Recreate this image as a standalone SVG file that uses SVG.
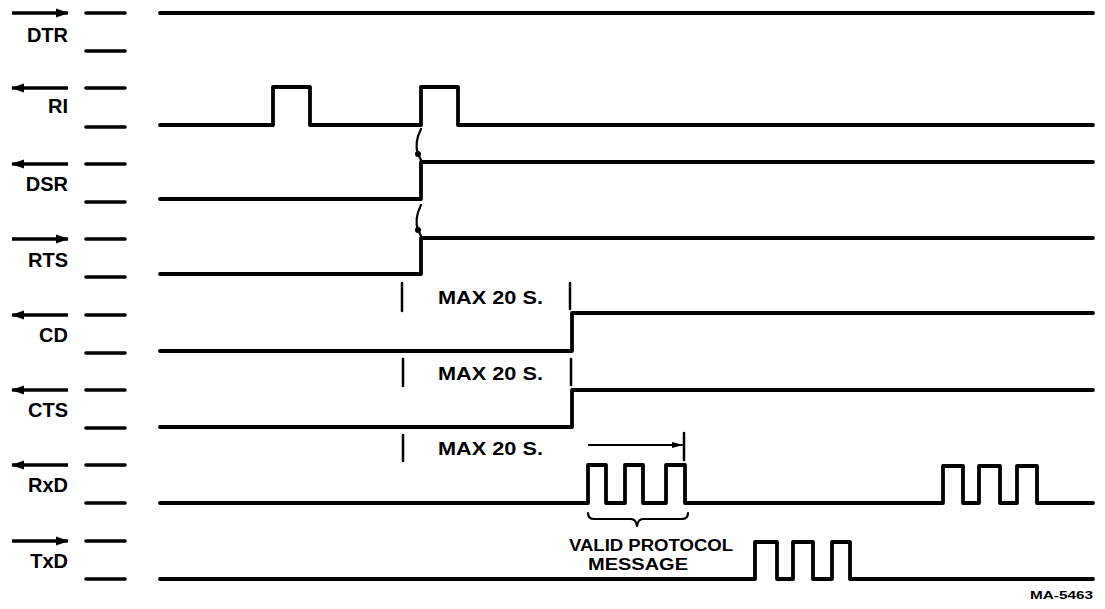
<svg xmlns="http://www.w3.org/2000/svg" width="1105" height="609" viewBox="0 0 1105 609">
<style>
.bg{fill:#ffffff}
.lbl{font-family:"Liberation Sans",Arial,sans-serif;font-weight:bold;font-size:20px;fill:#000;text-anchor:end}
.ann{font-family:"Liberation Sans",Arial,sans-serif;font-weight:bold;font-size:19px;fill:#000}
.msg{font-family:"Liberation Sans",Arial,sans-serif;font-weight:bold;font-size:16px;fill:#000}
.small{font-family:"Liberation Sans",Arial,sans-serif;font-weight:bold;font-size:10px;fill:#000}
.dir{stroke:#000;stroke-width:3.4;fill:none;marker-end:url(#ah)}
.tick{stroke:#000;stroke-width:3.6;stroke-linecap:round;fill:none}
.wave{stroke:#000;stroke-width:3.8;fill:none;stroke-linejoin:round;stroke-linecap:round}
.vt{stroke:#000;stroke-width:2.5;fill:none;stroke-linecap:round}
.thin{stroke:#000;stroke-width:2.2;fill:none;stroke-linecap:round;stroke-linejoin:round}
</style>
<defs>
<marker id="ah" markerUnits="userSpaceOnUse" markerWidth="14" markerHeight="10" refX="12" refY="5" orient="auto">
<path d="M0,0.5 L13,5 L0,9.5 z" fill="#000"/>
</marker>
<marker id="ah2" markerUnits="userSpaceOnUse" markerWidth="12" markerHeight="8" refX="10" refY="4" orient="auto">
<path d="M0,1 L11,4 L0,7 z" fill="#000"/>
</marker>
</defs>
<rect class="bg" x="0" y="0" width="1105" height="609"/>

<g id="sig-DTR">
<path class="dir" d="M12,13 H68"/>
<text class="lbl" x="68" y="42">DTR</text>
<path class="tick" d="M86,13 H125 M86,51 H125"/>
<path class="wave" d="M160,13 H1093"/>
</g>

<g id="sig-RI">
<path class="dir" d="M68,88 H12"/>
<text class="lbl" x="68" y="113">RI</text>
<path class="tick" d="M86,88 H125 M86,127 H125"/>
<path class="wave" d="M160,125 H273 V87 H310 V125 H421 V87 H458 V125 H1093"/>
</g>

<g id="sig-DSR">
<path class="dir" d="M68,164 H12"/>
<text class="lbl" x="68" y="191">DSR</text>
<path class="tick" d="M86,164 H125 M86,202 H125"/>
<path class="wave" d="M160,199 H421 V162 H1093"/>
</g>

<g id="sig-RTS">
<path class="dir" d="M12,239 H68"/>
<text class="lbl" x="68" y="267">RTS</text>
<path class="tick" d="M86,239 H125 M86,277 H125"/>
<path class="wave" d="M160,274 H421 V238 H1093"/>
</g>

<g id="sig-CD">
<path class="dir" d="M68,315 H12"/>
<text class="lbl" x="68" y="342">CD</text>
<path class="tick" d="M86,315 H125 M86,353 H125"/>
<path class="wave" d="M160,351 H572 V313 H1093"/>
</g>

<g id="sig-CTS">
<path class="dir" d="M68,390 H12"/>
<text class="lbl" x="68" y="417">CTS</text>
<path class="tick" d="M86,390 H125 M86,428 H125"/>
<path class="wave" d="M160,427 H572 V390 H1093"/>
</g>

<g id="sig-RxD">
<path class="dir" d="M68,465 H12"/>
<text class="lbl" x="68" y="492">RxD</text>
<path class="tick" d="M86,465 H125 M86,503 H125"/>
<path class="wave" d="M160,503 H588 V465 H606 V503 H625 V465 H643 V503 H666 V465 H685 V503 H943 V466 H963 V503 H979 V466 H1000 V503 H1017 V466 H1037 V503 H1093"/>
</g>

<g id="sig-TxD">
<path class="dir" d="M12,541 H68"/>
<text class="lbl" x="68" y="568">TxD</text>
<path class="tick" d="M86,541 H125 M86,579 H125"/>
<path class="wave" d="M160,579 H755 V542 H777 V579 H793 V542 H813 V579 H832 V542 H850 V579 H1093"/>
</g>

<g id="timing">
<path class="vt" d="M402,283 V311 M570,283 V309"/>
<text class="ann" x="438" y="304" textLength="105" lengthAdjust="spacingAndGlyphs">MAX 20 S.</text>
<path class="vt" d="M403,359 V386 M571,359 V385"/>
<text class="ann" x="438" y="380" textLength="105" lengthAdjust="spacingAndGlyphs">MAX 20 S.</text>
<path class="vt" d="M403,435 V461"/>
<text class="ann" x="438" y="455" textLength="105" lengthAdjust="spacingAndGlyphs">MAX 20 S.</text>
<path class="thin" d="M589,445 H682" marker-end="url(#ah2)"/>
<path class="vt" d="M684,433 V460"/>
<path class="thin" d="M588,513 Q588,519 594,519 H631 Q636,519 637,526 Q638,519 643,519 H682 Q688,519 688,513"/>
<text class="msg" x="569" y="551" textLength="164" lengthAdjust="spacingAndGlyphs">VALID PROTOCOL</text>
<text class="msg" x="588" y="570" textLength="100" lengthAdjust="spacingAndGlyphs">MESSAGE</text>
<text class="small" x="1030" y="599" textLength="63" lengthAdjust="spacingAndGlyphs">MA-5463</text>
</g>

<g id="connectors">
<path class="thin" d="M421,129 C417,137 415,146 418,154 L421,160"/>
<circle cx="418" cy="154" r="3" fill="#000"/>
<path class="thin" d="M421,205 C417,213 415,222 418,230 L421,236"/>
<circle cx="418" cy="230" r="3" fill="#000"/>
</g>
</svg>
